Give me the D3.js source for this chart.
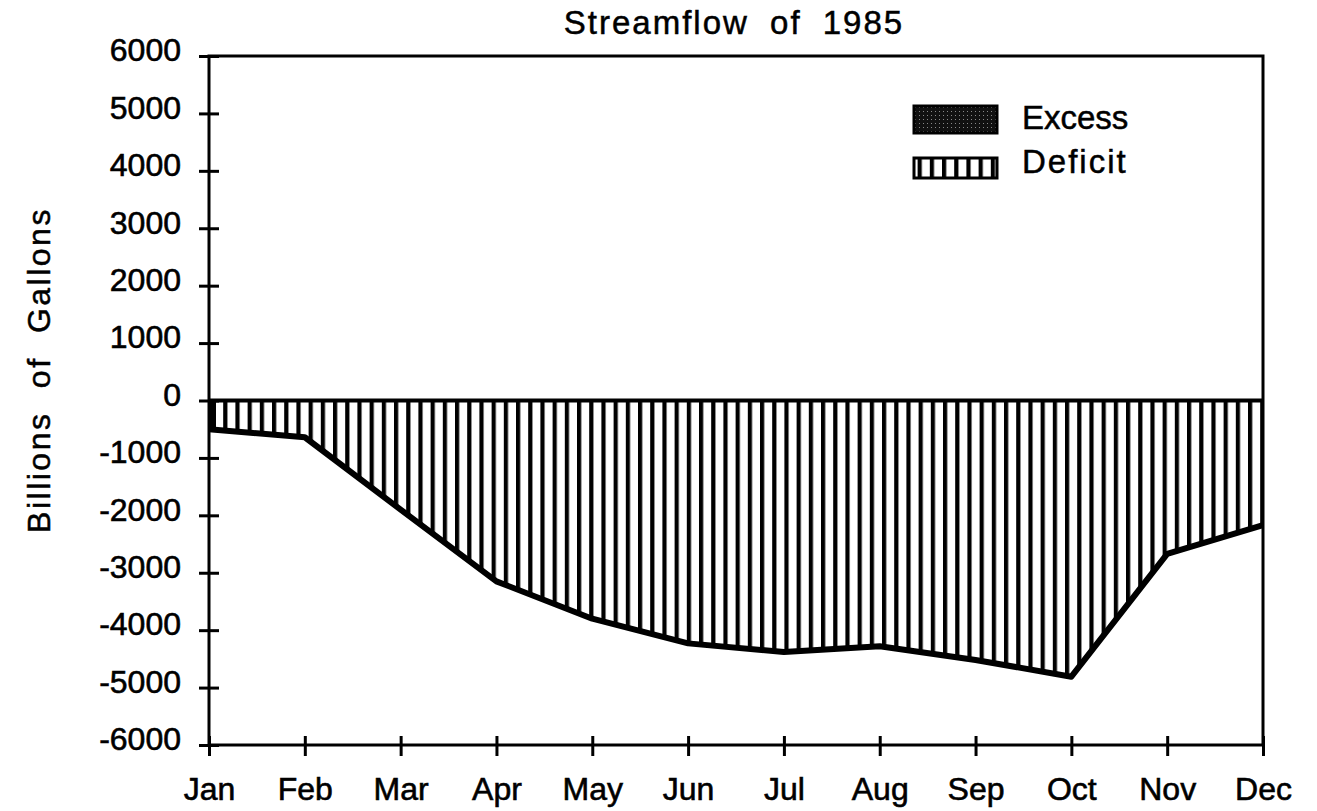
<!DOCTYPE html>
<html>
<head>
<meta charset="utf-8">
<script src="https://cdn.jsdelivr.net/npm/d3@7/dist/d3.min.js"></script>
<style>
  body { margin: 0; background: #fff; }
  svg text { font-family: "Liberation Sans", Arial, Helvetica, sans-serif; fill: #000; }
</style>
</head>
<body>
<div id="container"></div>
<script>
// chart data
var months = ["Jan", "Feb", "Mar", "Apr", "May", "Jun", "Jul", "Aug", "Sep", "Oct", "Nov", "Dec"];
var streamflow = [-500, -640, -1900, -3150, -3800, -4230, -4380, -4280, -4520, -4810, -2670, -2170];
var yTicks = [6000, 5000, 4000, 3000, 2000, 1000, 0, -1000, -2000, -3000, -4000, -5000, -6000];
var legendItems = ["Excess", "Deficit"];

var w = 1317, h = 811;
var margin = {left: 209, right: 54, top: 56, bottom: 66};

var svg = d3.select("div#container")
  .append("svg")
  .attr("width", w)
  .attr("height", h);

var defs = svg.append("defs");

// vertical stripes for deficit
var hatch = defs.append("pattern")
  .attr("id", "deficit")
  .attr("patternUnits", "userSpaceOnUse")
  .attr("x", margin.left + 2)
  .attr("width", 12.2)
  .attr("height", 20);
hatch.append("rect").attr("width", 12.2).attr("height", 20).attr("fill", "#fff");
hatch.append("rect").attr("x", 0).attr("width", 4.2).attr("height", 20).attr("fill", "#000");

// dark dotted fill for excess
var dots = defs.append("pattern")
  .attr("id", "excess")
  .attr("patternUnits", "userSpaceOnUse")
  .attr("width", 4)
  .attr("height", 4);
dots.append("rect").attr("width", 4).attr("height", 4).attr("fill", "#111");
dots.append("rect").attr("x", 1).attr("y", 1).attr("width", 1).attr("height", 1).attr("fill", "#888");

var x = d3.scalePoint()
  .domain(months)
  .range([margin.left, w - margin.right]);

var y = d3.scaleLinear()
  .domain([-6000, 6000])
  .range([h - margin.bottom, margin.top]);

var data = months.map(function(m, i) { return {month: m, value: streamflow[i]}; });

// deficit area
var area = d3.area()
  .x(function(d) { return x(d.month); })
  .y0(y(0))
  .y1(function(d) { return y(d.value); });

svg.append("path")
  .datum(data)
  .attr("d", area)
  .attr("fill", "url(#deficit)");

// zero line
svg.append("line")
  .attr("x1", x("Jan")).attr("x2", x("Dec"))
  .attr("y1", y(0)).attr("y2", y(0))
  .attr("stroke", "#000")
  .attr("stroke-width", 4);

// thick edge on the left of the area
svg.append("line")
  .attr("x1", x("Jan") + 4).attr("x2", x("Jan") + 4)
  .attr("y1", y(0)).attr("y2", y(streamflow[0]))
  .attr("stroke", "#000")
  .attr("stroke-width", 6);

// streamflow line
var line = d3.line()
  .x(function(d) { return x(d.month); })
  .y(function(d) { return y(d.value); });

svg.append("path")
  .datum(data)
  .attr("d", line)
  .attr("fill", "none")
  .attr("stroke", "#000")
  .attr("stroke-width", 6)
  .attr("stroke-linejoin", "round");

// frame
svg.append("rect")
  .attr("x", margin.left)
  .attr("y", margin.top)
  .attr("width", w - margin.left - margin.right)
  .attr("height", h - margin.top - margin.bottom)
  .attr("fill", "none")
  .attr("stroke", "#000")
  .attr("stroke-width", 3);

// y axis
var yAxis = svg.append("g")
  .attr("transform", "translate(" + margin.left + ",0)")
  .call(d3.axisLeft(y).tickValues(yTicks).tickSize(10).tickPadding(18).tickFormat(function(d) { return String(d); }));
yAxis.select(".domain").remove();
yAxis.selectAll(".tick line").attr("x2", 10).attr("x1", -10).attr("stroke", "#000").attr("stroke-width", 3);
yAxis.selectAll(".tick text")
  .style("font-size", "32px")
  .attr("dy", "0.15em")
  .attr("stroke", "#000").attr("stroke-width", 0.6);

// x axis
var xAxis = svg.append("g")
  .attr("transform", "translate(0," + (h - margin.bottom) + ")")
  .call(d3.axisBottom(x).tickSize(10).tickPadding(22));
xAxis.select(".domain").remove();
xAxis.selectAll(".tick line").attr("y1", -9).attr("y2", 11).attr("stroke", "#000").attr("stroke-width", 3);
xAxis.selectAll(".tick text")
  .style("font-size", "32px")
  .attr("stroke", "#000").attr("stroke-width", 0.6);

// title
svg.append("text")
  .attr("x", 734)
  .attr("y", 34)
  .attr("text-anchor", "middle")
  .style("font-size", "33px")
  .style("letter-spacing", "2px")
  .style("word-spacing", "10px")
  .attr("stroke", "#000").attr("stroke-width", 0.5)
  .text("Streamflow of 1985");

// y axis title
svg.append("text")
  .attr("transform", "translate(50,370) rotate(-90)")
  .attr("text-anchor", "middle")
  .style("font-size", "32px")
  .style("letter-spacing", "2.5px")
  .style("word-spacing", "12px")
  .attr("stroke", "#000").attr("stroke-width", 0.5)
  .text("Billions of Gallons");

// legend
var legend = svg.append("g").attr("transform", "translate(914,106)");
legend.selectAll("rect.swatch")
  .data(legendItems)
  .enter().append("rect")
  .attr("class", "swatch")
  .attr("x", 0)
  .attr("y", function(d, i) { return i ? 52 : 0; })
  .attr("width", 83)
  .attr("height", function(d, i) { return i ? 20 : 27; })
  .attr("fill", function(d) { return d == "Excess" ? "url(#excess)" : "url(#deficit)"; })
  .attr("stroke", "#000")
  .attr("stroke-width", 3);

legend.selectAll("text")
  .data(legendItems)
  .enter().append("text")
  .attr("x", 108)
  .attr("y", function(d, i) { return 23 + i * 44; })
  .style("font-size", "33px")
  .style("letter-spacing", function(d, i) { return i ? "2px" : "0px"; })
  .attr("stroke", "#000").attr("stroke-width", 0.5)
  .text(function(d) { return d; });
</script>
</body>
</html>
